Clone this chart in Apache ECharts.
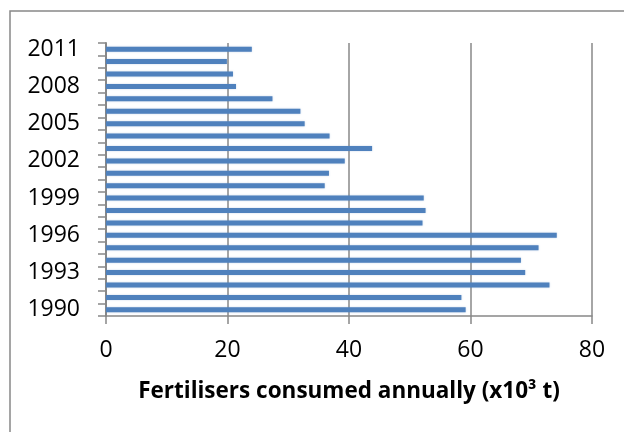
<!DOCTYPE html>
<html>
<head>
<meta charset="utf-8">
<script src="https://cdn.jsdelivr.net/npm/echarts@6/dist/echarts.min.js"></script>
<style>
  html, body { margin: 0; padding: 0; background: #fff; }
  #chart { width: 624px; height: 432px; }
</style>
</head>
<body>
<div id="chart"></div>
<script>
// years bottom to top
const years = ["1990", "1991", "1992", "1993", "1994", "1995", "1996", "1997", "1998", "1999", "2000",
  "2001", "2002", "2003", "2004", "2005", "2006", "2007", "2008", "2009", "2010", "2011"];
const consumed = [59.2, 58.5, 73.0, 69.0, 68.3, 71.2, 74.2, 52.1, 52.6, 52.3, 36.0,
  36.7, 39.3, 43.8, 36.8, 32.7, 32.0, 27.4, 21.4, 20.9, 19.9, 24.0];
const xTicks = [0, 20, 40, 60, 80];

const axisGrey = "#888888";
const font = "Open Sans";

const chart = echarts.init(document.getElementById("chart"));

const option = {
  animation: false,
  grid: { left: 106, right: 32, top: 43, bottom: 116 },
  graphic: [{
    type: "rect",
    shape: { x: 10, y: 11, width: 700, height: 500 },
    style: { fill: "none", stroke: axisGrey, lineWidth: 1.5 }
  }],
  xAxis: {
    type: "value",
    min: xTicks[0],
    max: xTicks[xTicks.length - 1],
    interval: 20,
    name: "Fertilisers consumed annually (x10³ t)",
    nameLocation: "middle",
    nameGap: 64,
    nameTextStyle: { fontFamily: font, fontWeight: "bold", fontSize: 22.5, color: "#000" },
    axisLine: { show: true, lineStyle: { color: axisGrey, width: 1.5 } },
    axisTick: { show: true, length: 8, lineStyle: { color: axisGrey, width: 1.5 } },
    axisLabel: { fontFamily: font, fontSize: 23, color: "#000", margin: 23 },
    splitLine: { show: true, lineStyle: { color: axisGrey, width: 1.5 } }
  },
  yAxis: {
    type: "category",
    data: years,
    axisLine: { show: true, lineStyle: { color: axisGrey, width: 2 } },
    axisTick: { show: true, interval: 0, length: 8, lineStyle: { color: axisGrey, width: 1.5 } },
    axisLabel: { interval: 2, fontFamily: font, fontSize: 23, color: "#000", margin: 26 },
    splitLine: { show: false }
  },
  series: [{
    type: "bar",
    data: consumed,
    barWidth: 5,
    itemStyle: {
      color: "#4F81BD",
      shadowColor: "rgba(79,129,189,0.35)",
      shadowBlur: 2
    }
  }]
};

chart.setOption(option);
</script>
</body>
</html>
